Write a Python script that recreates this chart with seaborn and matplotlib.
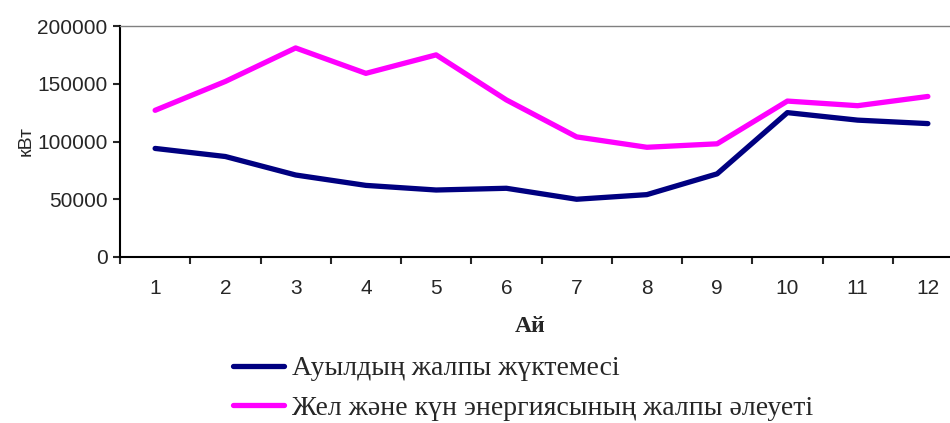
import pandas as pd
import seaborn as sns
import matplotlib.pyplot as plt

# Monthly values
months = list(range(1, 13))
load = [94000, 87000, 71000, 62000, 58000, 59500, 50000, 54000, 72000, 125000, 118500, 115500]
potential = [127000, 152000, 181000, 159000, 175000, 136000, 104000, 95000, 98000, 135000, 131000, 139000]

name_load = "Ауылдың жалпы жүктемесі"
name_pot = "Жел және күн энергиясының жалпы әлеуеті"

df = pd.DataFrame({
    "month": months * 2,
    "value": load + potential,
    "series": [name_load] * 12 + [name_pot] * 12,
})

sns.set_style("white")
plt.rcParams["font.family"] = ["Liberation Sans", "DejaVu Sans"]

fig = plt.figure(figsize=(9.5, 4.23), dpi=100)
ax = fig.add_axes([120 / 950, 1 - 257 / 423, 843 / 950, 231 / 423])

sns.lineplot(
    data=df, x="month", y="value", hue="series",
    palette={name_load: "#000080", name_pot: "#ff00ff"},
    linewidth=3.8, ax=ax, legend=False,
)

ax.set_xlim(0.5, 12.5)
ax.set_ylim(0, 200000)
ax.set_yticks([0, 50000, 100000, 150000, 200000])
ax.set_yticklabels(["0", "50000", "100000", "150000", "200000"], fontsize=15)
ax.set_xticks(months)
ax.set_xticklabels([str(m) for m in months], fontsize=15)
ax.set_xticks([m + 0.5 for m in range(0, 13)], minor=True)
ax.tick_params(axis="x", which="major", length=0, pad=16)
ax.tick_params(axis="x", which="minor", length=5, width=1.5, direction="out", bottom=True)
ax.tick_params(axis="y", length=5, width=1.5, direction="out", left=True, pad=4)

for s in ["left", "bottom"]:
    ax.spines[s].set_color("black")
    ax.spines[s].set_linewidth(1.5)
ax.spines["right"].set_visible(False)
ax.spines["top"].set_color("#808080")
ax.spines["top"].set_linewidth(1)

ax.set_xlabel("Ай", fontsize=17, fontweight="bold", family="Liberation Serif")
ax.set_ylabel("кВт", fontsize=14, labelpad=2)
ax.xaxis.set_label_coords((530 - 120) / 843, -0.255)

handles = [
    plt.Line2D([], [], color="#000080", linewidth=3.8),
    plt.Line2D([], [], color="#ff00ff", linewidth=3.8),
]
fig.legend(
    handles, [name_load, name_pot],
    loc="upper left", bbox_to_anchor=(208 / 950, 1 - 331 / 423),
    frameon=False, prop={"family": "Liberation Serif", "size": 20},
    handlelength=1.85, handletextpad=0.27, labelspacing=0.5,
)

plt.savefig("out.png", dpi=100)
